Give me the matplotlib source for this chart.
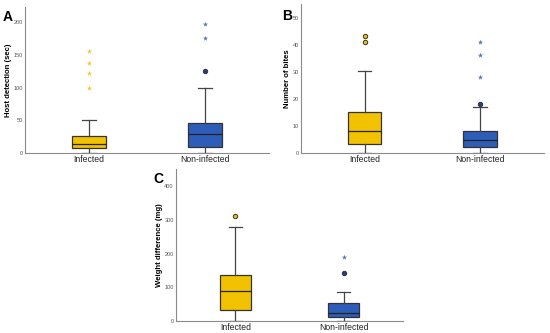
import matplotlib
matplotlib.use("Agg")
import matplotlib.pyplot as plt

plt.rcParams['font.family'] = ['Liberation Sans', 'DejaVu Sans']

categories = ["Infected", "Non-infected"]

# Panel A: Host detection (sec)
a_whislo = [0, 0]
a_q1 = [7.7, 9.2]
a_med = [13.3, 29]
a_q3 = [26, 46.5]
a_whishi = [51, 98.7]
a_circles = [[], [125]]
a_stars = [[98.7, 123, 137, 156.5], [175.5, 197]]

# Panel B: Number of bites
b_whislo = [0, 0]
b_q1 = [3.2, 2.2]
b_med = [8.1, 4.8]
b_q3 = [15.1, 8.0]
b_whishi = [30.2, 17.1]
b_circles = [[41.0, 43.1], [18.2]]
b_stars = [[], [28.1, 36.1, 41.0]]

# Panel C: Weight difference (mg)
c_whislo = [0, 0]
c_q1 = [32.4, 11.8]
c_med = [88.5, 23.6]
c_q3 = [137.6, 55]
c_whishi = [279, 87.5]
c_circles = [[310.6], [141.5]]
c_stars = [[], [189.7]]

yellow = "#F2C100"
blue = "#2D5DB8"
star_colors = ["#F0C830", "#5577B5"]
circle_face = ["#F2C100", "#1F3F8F"]
spine_col = "#8A8A8A"

fig = plt.figure(figsize=(5.5, 3.33), dpi=100)

def panel(rect, letter, letter_xy, ylabel, whislo, q1, med, q3, whishi, circles, stars, ylim, yticks):
    ax = fig.add_axes(rect)
    stats = []
    for i in range(2):
        stats.append(dict(whislo=whislo[i], q1=q1[i], med=med[i], q3=q3[i],
                          whishi=whishi[i], fliers=[], label=categories[i]))
    bp = ax.bxp(stats, positions=[1, 2], widths=0.29, patch_artist=True,
                showfliers=False,
                boxprops=dict(linewidth=0.9, edgecolor="#333333"),
                medianprops=dict(color="#222222", linewidth=0.9),
                whiskerprops=dict(color="#444444", linewidth=0.9),
                capprops=dict(color="#444444", linewidth=0.9),
                capwidths=0.12)
    for patch, col in zip(bp['boxes'], [yellow, blue]):
        patch.set_facecolor(col)
    for i in range(2):
        if circles[i]:
            ax.scatter([i + 1] * len(circles[i]), circles[i], s=10, marker='o',
                       facecolor=circle_face[i], edgecolor="#333333", linewidth=0.7, zorder=5)
        if stars[i]:
            ax.scatter([i + 1] * len(stars[i]), stars[i], s=16, marker='*',
                       color=star_colors[i], linewidth=0, zorder=5)
    ax.set_xlim(0.45, 2.55)
    ax.set_ylim(*ylim)
    ax.set_yticks(yticks)
    ax.set_xticks([1, 2])
    ax.set_xticklabels(categories, fontsize=6.2, color="#222222")
    ax.tick_params(axis='y', labelsize=4, labelcolor="#555555", length=0, pad=1.5)
    ax.tick_params(axis='x', length=0, pad=1.5)
    for s in ['top', 'right']:
        ax.spines[s].set_visible(False)
    for s in ['left', 'bottom']:
        ax.spines[s].set_color(spine_col)
        ax.spines[s].set_linewidth(0.8)
    ax.set_ylabel(ylabel, fontsize=5.6, fontweight='bold', labelpad=1)
    fig.text(letter_xy[0] / 550, 1 - letter_xy[1] / 333, letter, fontsize=10,
             fontweight='bold', ha='center', va='center')
    return ax

panel([0.0455, 0.5405, 0.4435, 0.438], "A", (8, 17), "Host detection (sec)",
      a_whislo, a_q1, a_med, a_q3, a_whishi, a_circles, a_stars, (0, 223), [0, 50, 100, 150, 200])
panel([0.547, 0.5405, 0.442, 0.447], "B", (287, 16), "Number of bites",
      b_whislo, b_q1, b_med, b_q3, b_whishi, b_circles, b_stars, (0, 55), [0, 10, 20, 30, 40, 50])
panel([0.3195, 0.035, 0.4135, 0.458], "C", (158, 179), "Weight difference (mg)",
      c_whislo, c_q1, c_med, c_q3, c_whishi, c_circles, c_stars, (0, 450), [0, 100, 200, 300, 400])

fig.savefig("out.png", dpi=100)
